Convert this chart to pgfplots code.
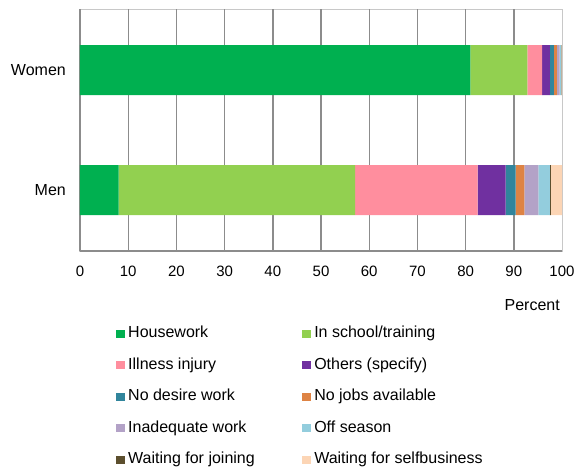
\documentclass[border=0pt]{standalone}
\usepackage{pgfplots}
\pgfplotsset{compat=1.18}
\usepackage{fontspec}
\setmainfont{Liberation Sans}
\definecolor{cHouse}{HTML}{00B050}
\definecolor{cSchool}{HTML}{92D050}
\definecolor{cIll}{HTML}{FF8E9E}
\definecolor{cOther}{HTML}{7030A0}
\definecolor{cNoDes}{HTML}{31859C}
\definecolor{cNoJob}{HTML}{DE8344}
\definecolor{cInad}{HTML}{B3A2C7}
\definecolor{cOff}{HTML}{93CDDD}
\definecolor{cJoin}{HTML}{5C4F2E}
\definecolor{cSelf}{HTML}{FCD5B5}
\definecolor{gridgray}{HTML}{8C8C8C}
\definecolor{framegray}{HTML}{C8C8C8}
\begin{document}
\begin{tikzpicture}
\path[use as bounding box] (0,0) rectangle (578pt,467pt);
\begin{axis}[
 at={(80pt,216pt)}, anchor=south west,
 scale only axis, width=482pt, height=242pt,
 xbar stacked, bar width=50pt,
 xmin=0, xmax=100, ymin=-0.5083, ymax=1.5083,
 xtick={0,10,...,100}, ytick={0,1}, yticklabels={Men,Women},
 major tick length=0pt,
 extra x ticks={0,10,...,90}, extra x tick labels={},
 extra x tick style={grid=major},
 major grid style={draw=gridgray, line width=1.4pt},
 axis line style={draw=framegray, line width=1pt},
 /pgf/number format/assume math mode=true,
 xticklabel style={anchor=base, yshift=-25.7pt, inner sep=0pt, font=\fontsize{15}{18}\selectfont},
 yticklabel style={anchor=east, xshift=-14pt, inner sep=0pt, font=\fontsize{16}{19}\selectfont},
 xlabel={Percent},
 xlabel style={at={(rel axis cs:1,0)}, anchor=base east, yshift=-59pt, xshift=-2pt, inner sep=0pt, font=\fontsize{16}{19}\selectfont},
 legend columns=2, legend cell align=left,
 legend style={at={(axis description cs:0.0747,-0.3099)}, anchor=north west, draw=none, fill=none, inner sep=0pt,
   font=\fontsize{16}{19}\selectfont,
   nodes={inner sep=0pt, text height=11.5pt, text depth=3.5pt},
   row sep=16.5pt,
   /tikz/every odd column/.append style={column sep=3pt},
   /tikz/every even column/.append style={column sep=47.5pt}},
 legend image code/.code={\fill[#1] (0pt,-4pt) rectangle (9pt,4pt);},
]
\addplot[fill=cHouse, draw=none] coordinates {(81.0,1) (8.0,0)};
\addlegendentry{Housework}
\addplot[fill=cSchool, draw=none] coordinates {(11.8,1) (49.1,0)};
\addlegendentry{In school/training}
\addplot[fill=cIll, draw=none] coordinates {(3.05,1) (25.4,0)};
\addlegendentry{Illness injury}
\addplot[fill=cOther, draw=none] coordinates {(1.65,1) (5.8,0)};
\addlegendentry{Others (specify)}
\addplot[fill=cNoDes, draw=none] coordinates {(0.8,1) (2.1,0)};
\addlegendentry{No desire work}
\addplot[fill=cNoJob, draw=none] coordinates {(0.66,1) (1.8,0)};
\addlegendentry{No jobs available}
\addplot[fill=cInad, draw=none] coordinates {(0.55,1) (2.9,0)};
\addlegendentry{Inadequate work}
\addplot[fill=cOff, draw=none] coordinates {(0.3,1) (2.4,0)};
\addlegendentry{Off season}
\addplot[fill=cJoin, draw=none] coordinates {(0.04,1) (0.2,0)};
\addlegendentry{Waiting for joining}
\addplot[fill=cSelf, draw=none] coordinates {(0.15,1) (2.3,0)};
\addlegendentry{Waiting for selfbusiness}
\draw[gridgray, line width=1.4pt] (rel axis cs:0,0) -- (rel axis cs:1,0);
\end{axis}
\end{tikzpicture}
\end{document}
